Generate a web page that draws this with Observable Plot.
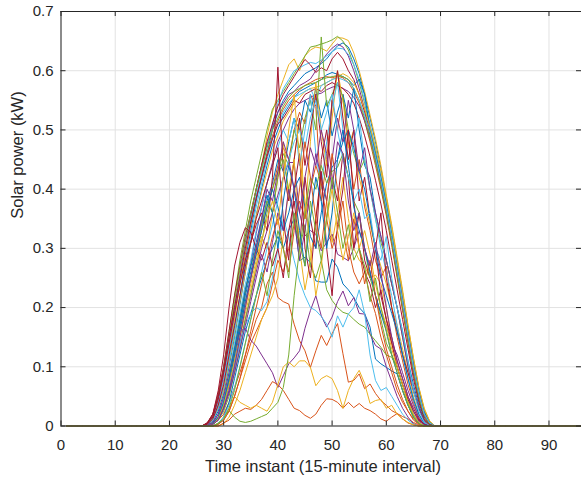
<!DOCTYPE html>
<html><head><meta charset="utf-8">
<script src="https://cdn.jsdelivr.net/npm/d3@7"></script>
<script src="https://cdn.jsdelivr.net/npm/@observablehq/plot@0.6"></script>
<style>body{margin:0;background:#fff}</style>
</head><body><div id="chart"></div>
<script>
// Each day: solar power (kW) from time instant 27 onward; 0 elsewhere (night).
const firstInstant = 27;
const day01 = [0.003,0.01,0.03,0.065,0.11, 0.165,0.22,0.28,0.33,0.38, 0.42,0.46,0.5,0.53,0.55, 0.565,0.575,0.585,0.595,0.6, 0.605,0.612,0.62,0.632,0.642, 0.647,0.64,0.62,0.595,0.56, 0.52,0.48,0.435,0.385,0.335, 0.28,0.225,0.165,0.11,0.062, 0.026,0.007];
const day02 = [0.004,0.014,0.04,0.08,0.13, 0.185,0.24,0.29,0.34,0.385, 0.425,0.46,0.49,0.515,0.535, 0.55,0.56,0.568,0.575,0.58, 0.585,0.588,0.59,0.588,0.591, 0.588,0.58,0.565,0.545,0.515, 0.48,0.44,0.4,0.355,0.305, 0.25,0.195,0.14,0.088,0.045, 0.015,0.003];
const day03 = [0.003,0.012,0.035,0.07,0.12, 0.18,0.24,0.3,0.35,0.4, 0.44,0.49,0.53,0.56,0.585, 0.61,0.62,0.6,0.625,0.635, 0.64,0.638,0.633,0.645,0.656, 0.655,0.651,0.63,0.6,0.565, 0.525,0.485,0.44,0.39,0.34, 0.285,0.23,0.17,0.115,0.065, 0.03,0.008];
const day04 = [0.004,0.015,0.04,0.085,0.14, 0.2,0.255,0.31,0.355,0.4, 0.44,0.475,0.505,0.53,0.545, 0.56,0.565,0.575,0.58,0.586, 0.6,0.615,0.628,0.638,0.645, 0.64,0.625,0.6,0.57,0.535, 0.495,0.455,0.41,0.365,0.315, 0.26,0.205,0.15,0.095,0.05, 0.018,0.004];
const day05 = [0.005,0.02,0.05,0.1,0.16, 0.22,0.28,0.33,0.38,0.42, 0.46,0.5,0.535,0.55,0.565, 0.58,0.595,0.61,0.625,0.64, 0.642,0.645,0.648,0.652,0.658, 0.65,0.635,0.61,0.58,0.545, 0.505,0.465,0.42,0.375,0.325, 0.27,0.215,0.16,0.105,0.06, 0.025,0.006];
const day06 = [0.004,0.014,0.04,0.08,0.13, 0.19,0.25,0.3,0.35,0.39, 0.43,0.47,0.51,0.545,0.57, 0.585,0.6,0.605,0.61,0.614, 0.612,0.618,0.625,0.632,0.638, 0.637,0.628,0.61,0.585,0.55, 0.51,0.47,0.425,0.378,0.328, 0.275,0.22,0.16,0.105,0.058, 0.022,0.005];
const day07 = [0.006,0.02,0.055,0.1,0.16, 0.22,0.27,0.32,0.36,0.4, 0.44,0.48,0.51,0.54,0.56, 0.575,0.59,0.605,0.619,0.61, 0.597,0.605,0.6,0.62,0.631, 0.62,0.6,0.585,0.56,0.53, 0.49,0.45,0.405,0.36,0.31, 0.255,0.2,0.145,0.09,0.045, 0.015,0.003];
const day08 = [0.002,0.008,0.025,0.055,0.1, 0.15,0.205,0.26,0.31,0.355, 0.4,0.44,0.475,0.5,0.525, 0.54,0.555,0.565,0.57,0.575, 0.58,0.585,0.593,0.597,0.594, 0.59,0.585,0.575,0.586,0.56, 0.5,0.46,0.42,0.375,0.325, 0.27,0.215,0.16,0.105,0.06, 0.024,0.006];
const day09 = [0,0.004,0.014,0.04,0.075, 0.12,0.165,0.21,0.25,0.29, 0.33,0.37,0.4,0.44,0.47, 0.45,0.5,0.53,0.51,0.56, 0.54,0.38,0.45,0.55,0.5, 0.56,0.48,0.4,0.45,0.37, 0.33,0.28,0.25,0.27,0.2, 0.15,0.11,0.07,0.04,0.015, 0.003];
const day10 = [0.003,0.01,0.03,0.06,0.105, 0.155,0.21,0.26,0.31,0.355, 0.395,0.43,0.465,0.49,0.515, 0.53,0.545,0.555,0.565,0.57, 0.572,0.575,0.58,0.585,0.59, 0.595,0.59,0.58,0.56,0.535, 0.505,0.47,0.43,0.385,0.335, 0.28,0.225,0.17,0.115,0.065, 0.028,0.008];
const day11 = [0.002,0.006,0.02,0.045,0.08, 0.125,0.175,0.225,0.275,0.325, 0.37,0.41,0.445,0.48,0.5, 0.52,0.535,0.545,0.55,0.555, 0.56,0.562,0.568,0.572,0.575, 0.57,0.565,0.555,0.54,0.515, 0.485,0.45,0.41,0.365,0.315, 0.265,0.21,0.155,0.1,0.055, 0.02,0.004];
const day12 = [0.005,0.018,0.05,0.095,0.15, 0.21,0.265,0.315,0.36,0.4, 0.435,0.47,0.5,0.52,0.54, 0.555,0.565,0.57,0.575,0.578, 0.58,0.585,0.588,0.59,0.592, 0.59,0.585,0.57,0.55,0.52, 0.485,0.445,0.405,0.36,0.31, 0.255,0.2,0.145,0.092,0.048, 0.016,0.003];
const day13 = [0.003,0.01,0.03,0.065,0.11, 0.16,0.215,0.27,0.32,0.37, 0.41,0.45,0.485,0.51,0.53, 0.545,0.555,0.56,0.565,0.57, 0.55,0.575,0.58,0.585,0.588, 0.585,0.58,0.57,0.55,0.525, 0.495,0.455,0.415,0.37,0.32, 0.265,0.21,0.155,0.1,0.055, 0.02,0.005];
const day14 = [0.005,0.018,0.05,0.095,0.15, 0.2,0.25,0.3,0.345,0.385, 0.42,0.455,0.485,0.51,0.52, 0.535,0.55,0.545,0.56,0.565, 0.57,0.565,0.575,0.58,0.575, 0.57,0.56,0.545,0.52,0.49, 0.455,0.415,0.375,0.33,0.28, 0.23,0.18,0.13,0.08,0.04, 0.012,0.002];
const day15 = [0,0.003,0.012,0.035,0.07, 0.12,0.17,0.22,0.26,0.3, 0.34,0.38,0.41,0.45,0.43, 0.48,0.52,0.5,0.55,0.53, 0.57,0.52,0.55,0.49,0.53, 0.56,0.52,0.57,0.5,0.44, 0.42,0.36,0.32,0.28,0.24, 0.2,0.16,0.11,0.07,0.035, 0.01,0.002];
const day16 = [0,0.003,0.01,0.02,0.04, 0.065,0.09,0.12,0.15,0.18, 0.2,0.24,0.26,0.217,0.21, 0.206,0.172,0.144,0.127,0.099, 0.127,0.153,0.136,0.156,0.173, 0.122,0.074,0.077,0.088,0.063, 0.071,0.055,0.043,0.035,0.026, 0.021,0.016,0.012,0.006,0.002];
const day17 = [0,0.003,0.01,0.03,0.06, 0.1,0.15,0.2,0.24,0.28, 0.32,0.3,0.36,0.42,0.48, 0.38,0.45,0.52,0.35,0.48, 0.58,0.5,0.44,0.52,0.6, 0.55,0.47,0.5,0.42,0.38, 0.34,0.3,0.27,0.24,0.2, 0.17,0.13,0.09,0.05,0.02, 0.005];
const day18 = [0,0.003,0.01,0.03,0.06, 0.1,0.14,0.18,0.22,0.26, 0.3,0.33,0.36,0.39,0.42, 0.445,0.445,0.36,0.321,0.33, 0.324,0.296,0.31,0.324,0.29, 0.285,0.279,0.3,0.33,0.3, 0.26,0.22,0.19,0.17,0.14, 0.12,0.09,0.06,0.035,0.015, 0.004];
const day19 = [0,0.003,0.01,0.025,0.05, 0.09,0.13,0.18,0.22,0.27, 0.31,0.36,0.4,0.43,0.46, 0.44,0.5,0.47,0.52,0.55, 0.5,0.657,0.54,0.56,0.58, 0.555,0.5,0.46,0.43,0.45, 0.4,0.35,0.31,0.28,0.24, 0.2,0.15,0.1,0.06,0.03, 0.01,0.002];
const day20 = [0,0.004,0.015,0.045,0.09, 0.14,0.19,0.24,0.28,0.33, 0.37,0.41,0.44,0.47,0.5, 0.48,0.52,0.44,0.5,0.56, 0.46,0.4,0.48,0.54,0.58, 0.5,0.44,0.48,0.52,0.45, 0.4,0.35,0.3,0.26,0.22, 0.17,0.12,0.08,0.045,0.018, 0.004];
const day21 = [0.004,0.015,0.045,0.09,0.14, 0.19,0.24,0.28,0.31,0.34, 0.36,0.33,0.42,0.606,0.43, 0.38,0.45,0.52,0.44,0.5, 0.56,0.48,0.42,0.55,0.6, 0.52,0.45,0.5,0.38,0.42, 0.35,0.3,0.36,0.25,0.2, 0.16,0.12,0.09,0.06,0.03, 0.01,0.002];
const day22 = [0,0,0.003,0.015,0.04, 0.08,0.12,0.16,0.19,0.22, 0.25,0.28,0.3,0.32,0.3, 0.33,0.35,0.279,0.285,0.276, 0.245,0.243,0.243,0.282,0.268, 0.24,0.23,0.217,0.2,0.19, 0.167,0.113,0.105,0.099,0.093, 0.088,0.06,0.035,0.015,0.004];
const day23 = [0,0,0.003,0.01,0.025, 0.05,0.08,0.11,0.14,0.16, 0.18,0.2,0.24,0.28,0.26, 0.3,0.34,0.38,0.35,0.4, 0.44,0.41,0.35,0.3,0.33, 0.38,0.3,0.26,0.24,0.26, 0.22,0.19,0.15,0.12,0.09, 0.06,0.04,0.025,0.012,0.004];
const day24 = [0,0,0,0.004,0.015, 0.035,0.06,0.09,0.12,0.15, 0.18,0.2,0.22,0.25,0.32, 0.4,0.45,0.3,0.23,0.28, 0.35,0.42,0.38,0.31,0.36, 0.42,0.35,0.3,0.28,0.27, 0.25,0.255,0.24,0.2,0.14, 0.1,0.07,0.045,0.025,0.01, 0.002];
const day25 = [0,0.005,0.02,0.05,0.09, 0.13,0.16,0.165,0.145,0.135, 0.12,0.105,0.09,0.065,0.085, 0.105,0.115,0.127,0.165,0.195, 0.22,0.186,0.167,0.184,0.21, 0.228,0.203,0.217,0.19,0.189, 0.155,0.136,0.13,0.1,0.075, 0.05,0.03,0.015,0.004];
const day26 = [0,0.004,0.015,0.04,0.08, 0.13,0.18,0.23,0.27,0.3, 0.34,0.38,0.36,0.42,0.45, 0.4,0.35,0.3,0.34,0.27, 0.25,0.28,0.23,0.212,0.2, 0.192,0.189,0.18,0.172,0.167, 0.155,0.144,0.133,0.12,0.116, 0.099,0.07,0.04,0.018,0.005];
const day27 = [0,0.003,0.01,0.03,0.06, 0.1,0.14,0.17,0.19,0.2, 0.195,0.21,0.25,0.3,0.35, 0.32,0.28,0.245,0.22,0.2, 0.195,0.185,0.172,0.15,0.186, 0.167,0.189,0.2,0.23,0.19, 0.12,0.077,0.06,0.065,0.05, 0.035,0.02,0.01,0.003];
const day28 = [0.005,0.02,0.06,0.12,0.2, 0.27,0.31,0.335,0.327,0.3, 0.28,0.31,0.27,0.3,0.25, 0.33,0.38,0.3,0.42,0.35, 0.3,0.45,0.5,0.42,0.38, 0.46,0.42,0.3,0.36,0.28, 0.25,0.3,0.22,0.18,0.15, 0.11,0.08,0.05,0.03,0.012, 0.003];
const day29 = [0,0.003,0.012,0.035,0.07, 0.11,0.16,0.21,0.25,0.29, 0.33,0.37,0.4,0.37,0.33, 0.36,0.4,0.42,0.37,0.32, 0.3,0.36,0.41,0.437,0.45, 0.48,0.5,0.47,0.43,0.4, 0.35,0.3,0.25,0.22,0.19, 0.16,0.12,0.08,0.045,0.02, 0.005];
const day30 = [0,0,0,0.005,0.01, 0.02,0.025,0.03,0.028,0.035, 0.045,0.06,0.075,0.07,0.06, 0.045,0.03,0.026,0.018,0.013, 0.02,0.035,0.046,0.045,0.04, 0.03,0.04,0.031,0.038,0.03, 0.026,0.02,0.012,0.008,0.015, 0.021,0.012,0.005,0.002];
const day31 = [0,0,0.005,0.015,0.03, 0.05,0.04,0.035,0.03,0.035, 0.03,0.025,0.04,0.07,0.1, 0.108,0.1,0.11,0.11,0.099, 0.068,0.08,0.085,0.08,0.06, 0.03,0.06,0.08,0.094,0.072, 0.038,0.043,0.045,0.03,0.035, 0.02,0.012,0.006,0.002];
const day32 = [0,0.003,0.01,0.03,0.055, 0.09,0.13,0.17,0.21,0.25, 0.29,0.26,0.31,0.36,0.33, 0.4,0.35,0.28,0.33,0.4, 0.46,0.42,0.38,0.45,0.52, 0.48,0.55,0.5,0.43,0.47, 0.4,0.36,0.32,0.28,0.24, 0.2,0.15,0.1,0.06,0.03, 0.008];
const day33 = [0,0,0.005,0.015,0.026, 0.015,0.008,0.006,0.008,0.012, 0.016,0.02,0.03,0.04,0.065, 0.12,0.22,0.3,0.36,0.42, 0.4,0.44,0.41,0.43,0.437, 0.46,0.42,0.38,0.36,0.3, 0.25,0.22,0.18,0.14,0.12, 0.1,0.07,0.04,0.02,0.005];
const day34 = [0,0,0.004,0.015,0.035, 0.065,0.1,0.14,0.18,0.22, 0.26,0.3,0.34,0.38,0.42, 0.45,0.48,0.5,0.47,0.52, 0.55,0.5,0.53,0.56,0.5, 0.45,0.42,0.38,0.4,0.35, 0.36,0.3,0.28,0.32,0.25, 0.2,0.16,0.11,0.06,0.025, 0.006];
const day35 = [0.003,0.012,0.035,0.07,0.12, 0.17,0.22,0.27,0.31,0.35, 0.38,0.41,0.44,0.47,0.35, 0.28,0.4,0.46,0.3,0.25, 0.35,0.43,0.3,0.22,0.34, 0.4,0.5,0.38,0.3,0.26, 0.24,0.2,0.23,0.18,0.14, 0.1,0.07,0.045,0.025,0.01, 0.003];
const day36 = [0,0.004,0.015,0.04,0.08, 0.13,0.18,0.23,0.27,0.31, 0.35,0.39,0.36,0.3,0.38, 0.44,0.4,0.33,0.27,0.35, 0.42,0.38,0.3,0.36,0.45, 0.5,0.44,0.37,0.33,0.3, 0.26,0.22,0.19,0.16,0.12, 0.09,0.06,0.035,0.015,0.004];
const day37 = [0,0,0.003,0.01,0.025, 0.05,0.08,0.12,0.16,0.2, 0.24,0.28,0.32,0.35,0.3, 0.26,0.33,0.4,0.48,0.42, 0.35,0.3,0.38,0.46,0.4, 0.33,0.28,0.35,0.3,0.24, 0.28,0.22,0.17,0.13,0.1, 0.07,0.045,0.025,0.01,0.003];
const day38 = [0,0.003,0.012,0.035,0.07, 0.11,0.15,0.19,0.23,0.27, 0.31,0.35,0.38,0.34,0.42, 0.5,0.56,0.45,0.38,0.3, 0.22,0.27,0.35,0.4,0.33, 0.28,0.32,0.36,0.3,0.33, 0.29,0.24,0.2,0.17,0.13, 0.1,0.07,0.04,0.02,0.006];
const day39 = [0,0.003,0.01,0.03,0.06, 0.1,0.15,0.2,0.25,0.3, 0.35,0.4,0.38,0.43,0.48, 0.45,0.4,0.36,0.42,0.47, 0.44,0.5,0.46,0.4,0.48, 0.46,0.38,0.33,0.36,0.3, 0.27,0.31,0.26,0.2,0.15, 0.11,0.08,0.05,0.025,0.008, 0.002];
const day40 = [0,0,0.004,0.012,0.03, 0.06,0.1,0.14,0.18,0.22, 0.26,0.22,0.28,0.33,0.3, 0.25,0.36,0.31,0.27,0.38, 0.33,0.28,0.35,0.42,0.36, 0.3,0.34,0.28,0.3,0.27, 0.21,0.25,0.2,0.16,0.12, 0.09,0.06,0.035,0.015,0.004];

const days = [day01,day02,day03,day04,day05,day06,day07,day08,day09,day10,day11,day12,day13,day14,day15,day16,day17,
  day18,day19,day20,day21,day22,day23,day24,day25,day26,day27,day28,day29,day30,day31,day32,day33,day34,
  day35,day36,day37,day38,day39,day40];
const instants = d3.range(1, 97);
const xTicks = [0,10,20,30,40,50,60,70,80,90];
const yTicks = [0,0.1,0.2,0.3,0.4,0.5,0.6,0.7];
const yTickLabels = ["0","0.1","0.2","0.3","0.4","0.5","0.6","0.7"];
const xLabel = "Time instant (15-minute interval)";
const yLabel = "Solar power (kW)";
const palette = ["#0072BD","#D95319","#EDB120","#7E2F8E","#77AC30","#4DBEEE","#A2142F"];

const rows = [];
days.forEach((vals, i) => {
  for (const t of instants) {
    const k = t - firstInstant;
    rows.push({day: i, t, kw: k >= 0 && k < vals.length ? vals[k] : 0});
  }
});

const X0 = 60.5, X1 = 581, Y0 = 425.5, Y1 = 11, W = 581, H = 479;
const fw = X1 - X0, fh = Y0 - Y1, tl = 5;
const ink = "#262626", grid = "#e2e2e2";
const font = "'Liberation Sans', Arial, Helvetica, sans-serif";

const chart = Plot.plot({
  width: W, height: H,
  marginLeft: X0, marginRight: W - X1, marginTop: Y1, marginBottom: H - Y0,
  x: {domain: [0, 96], range: [X0, X1]},
  y: {domain: [0, 0.7], range: [Y0, Y1]},
  color: {type: "ordinal", domain: days.map((_, i) => i), range: days.map((_, i) => palette[i % 7])},
  style: {fontFamily: font, fontSize: "15px", color: ink, background: "#fff"},
  marks: [
    Plot.ruleX(xTicks, {stroke: grid, strokeWidth: 1}),
    Plot.ruleY(yTicks, {stroke: grid, strokeWidth: 1}),
    Plot.line(rows, {x: "t", y: "kw", z: "day", stroke: "day", strokeWidth: 1, curve: "linear"}),
    Plot.tickX(xTicks, {stroke: ink, insetTop: fh - tl}),
    Plot.tickX(xTicks, {stroke: ink, insetBottom: fh - tl}),
    Plot.tickY(yTicks, {stroke: ink, insetRight: fw - tl}),
    Plot.tickY(yTicks, {stroke: ink, insetLeft: fw - tl}),
    Plot.frame({stroke: ink}),
    Plot.axisX(xTicks, {tickSize: 0, tickPadding: 13, label: null, tickFormat: d => String(d), fill: ink}),
    Plot.axisY(yTicks, {tickSize: 0, tickPadding: 7.5, label: null, tickFormat: d => yTickLabels[yTicks.indexOf(d)], fill: ink}),
    Plot.text([xLabel], {frameAnchor: "bottom", dx: 1.7, dy: 33.8, lineAnchor: "top", fontSize: 16.5, fill: ink}),
    Plot.text([yLabel], {frameAnchor: "left", rotate: -90, dx: -50.2, lineAnchor: "top", fontSize: 16.5, fill: ink})
  ]
});
document.getElementById("chart").appendChild(chart);
</script>
</body></html>
